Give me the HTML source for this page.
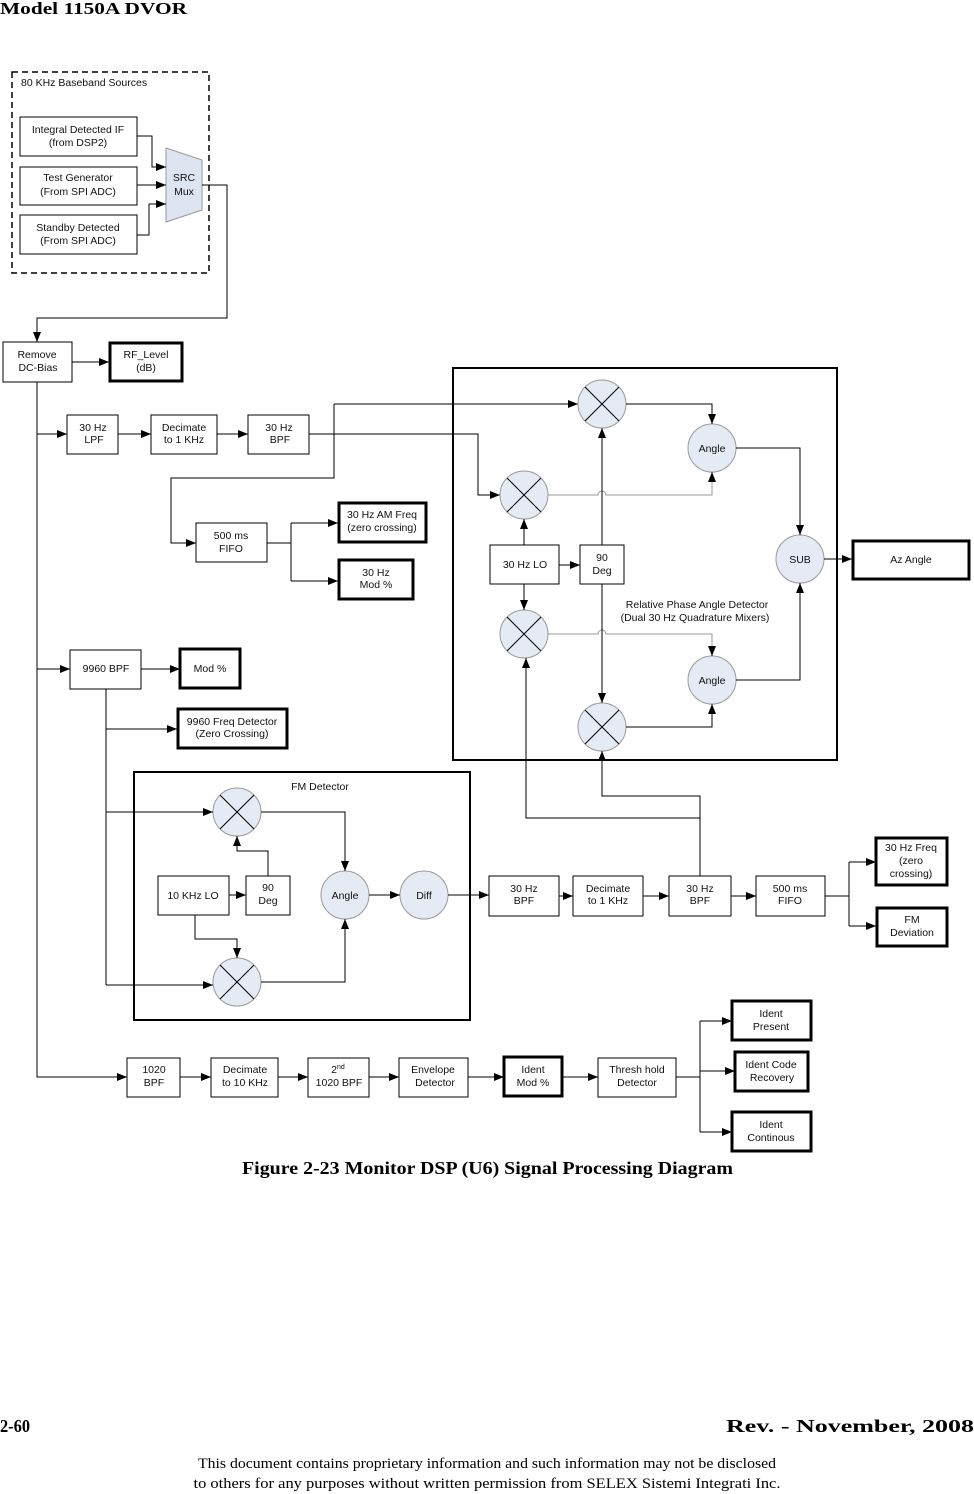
<!DOCTYPE html>
<html><head><meta charset="utf-8"><style>
html,body{margin:0;padding:0;background:#fff}
svg{display:block}
.t{font-family:"Liberation Sans",sans-serif;font-size:10.5px;fill:#111;text-anchor:middle}
.s{font-family:"Liberation Serif",serif;fill:#000}
.b{fill:#fff;stroke:#000;stroke-width:1}
.k{fill:#fff;stroke:#000;stroke-width:3}
.l{fill:none;stroke:#000;stroke-width:1}
.g{fill:none;stroke:#999;stroke-width:1}
.c{fill:#e4ebf5;stroke:#999;stroke-width:1}
</style></head><body>
<svg width="974" height="1494" viewBox="0 0 974 1494" xmlns="http://www.w3.org/2000/svg">
<defs><marker id="a" markerUnits="userSpaceOnUse" markerWidth="10" markerHeight="8" refX="10" refY="4" orient="auto"><path d="M0,0 L10,4 L0,8 z" fill="#000"/></marker></defs>

<text class="s" x="0" y="14" font-size="17" font-weight="bold" textLength="187" lengthAdjust="spacingAndGlyphs">Model 1150A DVOR</text>

<!-- baseband sources -->
<rect x="12" y="72" width="197" height="201" fill="none" stroke="#000" stroke-width="1.5" stroke-dasharray="6,4"/>
<text class="t" x="21" y="86" style="text-anchor:start">80 KHz Baseband Sources</text>
<rect class="b" x="20" y="117" width="117" height="39"/><text class="t" x="78" y="133">Integral Detected IF</text><text class="t" x="78" y="146">(from DSP2)</text>
<rect class="b" x="20" y="167" width="117" height="38"/><text class="t" x="78" y="181">Test Generator</text><text class="t" x="78" y="195">(From SPI ADC)</text>
<rect class="b" x="20" y="215" width="117" height="39"/><text class="t" x="78" y="231">Standby Detected</text><text class="t" x="78" y="244">(From SPI ADC)</text>
<polygon points="166,148 202,160 202,210 166,222" fill="#dde5f1" stroke="#999"/>
<text class="t" x="184" y="181">SRC</text><text class="t" x="184" y="195">Mux</text>
<polyline class="l" points="137,136 152,136 152,167 166,167" marker-end="url(#a)"/>
<polyline class="l" points="137,185 166,185" marker-end="url(#a)"/>
<polyline class="l" points="137,235 149,235 149,204 166,204" marker-end="url(#a)"/>
<polyline class="l" points="202,185 227,185 227,318 37,318 37,342" marker-end="url(#a)"/>

<rect class="b" x="3" y="342" width="69" height="40"/><text class="t" x="37" y="358">Remove</text><text class="t" x="38" y="371">DC-Bias</text>
<rect class="k" x="110" y="343" width="72" height="38"/><text class="t" x="146" y="358">RF_Level</text><text class="t" x="146" y="371">(dB)</text>
<polyline class="l" points="72,362 109,362" marker-end="url(#a)"/>
<polyline class="l" points="37,382 37,1077 127,1077" marker-end="url(#a)"/>

<!-- 30Hz AM chain -->
<rect class="b" x="67" y="415" width="51" height="39"/><text class="t" x="93" y="431">30 Hz</text><text class="t" x="94" y="443">LPF</text>
<rect class="b" x="151" y="415" width="66" height="39"/><text class="t" x="184" y="431">Decimate</text><text class="t" x="184" y="443">to 1 KHz</text>
<rect class="b" x="248" y="415" width="61" height="39"/><text class="t" x="279" y="431">30 Hz</text><text class="t" x="280" y="443">BPF</text>
<polyline class="l" points="37,434 67,434" marker-end="url(#a)"/>
<polyline class="l" points="118,434 151,434" marker-end="url(#a)"/>
<polyline class="l" points="217,434 248,434" marker-end="url(#a)"/>
<polyline class="l" points="309,434 478,434 478,495 500,495" marker-end="url(#a)"/>
<polyline class="l" points="334,404 334,478 171,478 171,543 196,543"  marker-end="url(#a)"/>
<polyline class="l" points="334,404 578,404" marker-end="url(#a)"/>
<rect class="b" x="196" y="523" width="71" height="39"/><text class="t" x="231" y="539">500 ms</text><text class="t" x="231" y="552">FIFO</text>
<polyline class="l" points="267,543 291,543"/>
<polyline class="l" points="291,523 291,581"/>
<polyline class="l" points="291,523 338,523" marker-end="url(#a)"/>
<polyline class="l" points="291,581 338,581" marker-end="url(#a)"/>
<rect class="k" x="339" y="503" width="87" height="39"/><text class="t" x="382" y="518">30 Hz AM Freq</text><text class="t" x="382" y="531">(zero crossing)</text>
<rect class="k" x="339" y="560" width="74" height="39"/><text class="t" x="376" y="576">30 Hz</text><text class="t" x="376" y="588">Mod %</text>

<!-- 9960 -->
<rect class="b" x="70" y="650" width="71" height="39"/><text class="t" x="106" y="672">9960 BPF</text>
<rect class="k" x="180" y="649" width="60" height="39"/><text class="t" x="210" y="672">Mod %</text>
<rect class="k" x="178" y="709" width="109" height="39"/><text class="t" x="232" y="725">9960 Freq Detector</text><text class="t" x="232" y="737">(Zero Crossing)</text>
<polyline class="l" points="37,669 70,669" marker-end="url(#a)"/>
<polyline class="l" points="141,669 180,669" marker-end="url(#a)"/>
<polyline class="l" points="106,689 106,985"/>
<polyline class="l" points="106,729 177,729" marker-end="url(#a)"/>

<!-- relative phase detector -->
<rect x="453" y="368" width="384" height="392" fill="none" stroke="#000" stroke-width="2"/>
<circle class="c" cx="602" cy="404" r="24"/><path class="l" d="M585,387 L619,421 M619,387 L585,421"/>
<circle class="c" cx="524" cy="495" r="24"/><path class="l" d="M507,478 L541,512 M541,478 L507,512"/>
<circle class="c" cx="524" cy="634" r="24"/><path class="l" d="M507,617 L541,651 M541,617 L507,651"/>
<circle class="c" cx="602" cy="727" r="24"/><path class="l" d="M585,710 L619,744 M619,710 L585,744"/>
<circle class="c" cx="712" cy="448" r="24"/><text class="t" x="712" y="452">Angle</text>
<circle class="c" cx="712" cy="680" r="24"/><text class="t" x="712" y="684">Angle</text>
<circle class="c" cx="800" cy="559" r="24"/><text class="t" x="800" y="563">SUB</text>
<rect class="b" x="490" y="545" width="69" height="39"/><text class="t" x="525" y="568">30 Hz LO</text>
<rect class="b" x="580" y="545" width="44" height="39"/><text class="t" x="602" y="561">90</text><text class="t" x="602" y="574">Deg</text>
<rect class="k" x="853" y="541" width="116" height="38"/><text class="t" x="911" y="563">Az Angle</text>
<text class="t" x="697" y="608">Relative Phase Angle Detector</text>
<text class="t" x="695" y="621">(Dual 30 Hz Quadrature Mixers)</text>
<polyline class="l" points="626,404 712,404 712,424" marker-end="url(#a)"/>
<path class="g" d="M548,495 L598,495 A4,4 0 0 1 606,495 L712,495 L712,480"/>
<polyline class="l" points="712,482 712,472" marker-end="url(#a)"/>
<path class="g" stroke="#bbb" d="M548,634 L598,634 A4,4 0 0 1 606,634 L712,634 L712,648"/>
<polyline class="l" points="712,646 712,656" marker-end="url(#a)"/>
<polyline class="l" points="626,727 712,727 712,704" marker-end="url(#a)"/>
<polyline class="l" points="736,448 800,448 800,535" marker-end="url(#a)"/>
<polyline class="l" points="736,680 800,680 800,583" marker-end="url(#a)"/>
<polyline class="l" points="824,559 852,559" marker-end="url(#a)"/>
<polyline class="l" points="524,545 524,519" marker-end="url(#a)"/>
<polyline class="l" points="524,584 524,610" marker-end="url(#a)"/>
<polyline class="l" points="559,565 580,565" marker-end="url(#a)"/>
<polyline class="l" points="602,545 602,428" marker-end="url(#a)"/>
<polyline class="l" points="602,584 602,703" marker-end="url(#a)"/>
<polyline class="l" points="700,876 700,796 602,796 602,751" marker-end="url(#a)"/>
<polyline class="l" points="700,818 526,818 526,658" marker-end="url(#a)"/>

<!-- FM detector -->
<rect x="134" y="772" width="336" height="248" fill="none" stroke="#000" stroke-width="2"/>
<text class="t" x="320" y="790">FM Detector</text>
<circle class="c" cx="237" cy="812" r="24"/><path class="l" d="M220,795 L254,829 M254,795 L220,829"/>
<circle class="c" cx="237" cy="982" r="24"/><path class="l" d="M220,965 L254,999 M254,965 L220,999"/>
<rect class="b" x="158" y="876" width="71" height="39"/><text class="t" x="193" y="899">10 KHz LO</text>
<rect class="b" x="246" y="876" width="44" height="39"/><text class="t" x="268" y="891">90</text><text class="t" x="268" y="904">Deg</text>
<circle class="c" cx="345" cy="895" r="24"/><text class="t" x="345" y="899">Angle</text>
<circle class="c" cx="424" cy="895" r="24"/><text class="t" x="424" y="899">Diff</text>
<polyline class="l" points="106,812 213,812" marker-end="url(#a)"/>
<polyline class="l" points="106,985 213,985" marker-end="url(#a)"/>
<polyline class="l" points="261,812 345,812 345,871" marker-end="url(#a)"/>
<polyline class="l" points="261,982 345,982 345,919" marker-end="url(#a)"/>
<polyline class="l" points="268,876 268,851 237,851 237,836" marker-end="url(#a)"/>
<polyline class="l" points="195,915 195,939 237,939 237,958" marker-end="url(#a)"/>
<polyline class="l" points="229,895 246,895" marker-end="url(#a)"/>
<polyline class="l" points="369,895 400,895" marker-end="url(#a)"/>
<polyline class="l" points="448,895 489,895" marker-end="url(#a)"/>

<!-- FM chain -->
<rect class="b" x="489" y="876" width="70" height="40"/><text class="t" x="524" y="892">30 Hz</text><text class="t" x="524" y="904">BPF</text>
<rect class="b" x="573" y="876" width="70" height="40"/><text class="t" x="608" y="892">Decimate</text><text class="t" x="608" y="904">to 1 KHz</text>
<rect class="b" x="669" y="876" width="62" height="40"/><text class="t" x="700" y="892">30 Hz</text><text class="t" x="700" y="904">BPF</text>
<rect class="b" x="756" y="876" width="69" height="40"/><text class="t" x="790" y="892">500 ms</text><text class="t" x="790" y="904">FIFO</text>
<polyline class="l" points="559,896 573,896" marker-end="url(#a)"/>
<polyline class="l" points="643,896 669,896" marker-end="url(#a)"/>
<polyline class="l" points="731,896 756,896" marker-end="url(#a)"/>
<polyline class="l" points="825,896 849,896"/>
<polyline class="l" points="849,862 849,926"/>
<polyline class="l" points="849,862 876,862" marker-end="url(#a)"/>
<polyline class="l" points="849,926 876,926" marker-end="url(#a)"/>
<rect class="k" x="876" y="838" width="71" height="47"/><text class="t" x="911" y="851">30 Hz Freq</text><text class="t" x="911" y="864">(zero</text><text class="t" x="911" y="877">crossing)</text>
<rect class="k" x="877" y="908" width="70" height="38"/><text class="t" x="912" y="923">FM</text><text class="t" x="912" y="936">Deviation</text>

<!-- Ident chain -->
<rect class="b" x="127" y="1058" width="53" height="39"/><text class="t" x="154" y="1073">1020</text><text class="t" x="154" y="1086">BPF</text>
<rect class="b" x="211" y="1058" width="67" height="39"/><text class="t" x="245" y="1073">Decimate</text><text class="t" x="245" y="1086">to 10 KHz</text>
<rect class="b" x="308" y="1058" width="61" height="39"/><text class="t" x="338" y="1073">2<tspan font-size="7" dy="-4">nd</tspan></text><text class="t" x="339" y="1086">1020 BPF</text>
<rect class="b" x="399" y="1058" width="69" height="39"/><text class="t" x="433" y="1073">Envelope</text><text class="t" x="435" y="1086">Detector</text>
<rect class="k" x="504" y="1057" width="58" height="39"/><text class="t" x="533" y="1073">Ident</text><text class="t" x="533" y="1086">Mod %</text>
<rect class="b" x="598" y="1058" width="78" height="39"/><text class="t" x="637" y="1073">Thresh hold</text><text class="t" x="637" y="1086">Detector</text>
<polyline class="l" points="180,1077 211,1077" marker-end="url(#a)"/>
<polyline class="l" points="278,1077 308,1077" marker-end="url(#a)"/>
<polyline class="l" points="369,1077 399,1077" marker-end="url(#a)"/>
<polyline class="l" points="468,1077 504,1077" marker-end="url(#a)"/>
<polyline class="l" points="562,1077 598,1077" marker-end="url(#a)"/>
<polyline class="l" points="676,1077 700,1077"/>
<polyline class="l" points="700,1021 700,1132"/>
<polyline class="l" points="700,1021 732,1021" marker-end="url(#a)"/>
<polyline class="l" points="700,1071 735,1071" marker-end="url(#a)"/>
<polyline class="l" points="700,1132 732,1132" marker-end="url(#a)"/>
<rect class="k" x="732" y="1001" width="79" height="39"/><text class="t" x="771" y="1017">Ident</text><text class="t" x="771" y="1030">Present</text>
<rect class="k" x="735" y="1052" width="73" height="39"/><text class="t" x="771" y="1068">Ident Code</text><text class="t" x="772" y="1081">Recovery</text>
<rect class="k" x="732" y="1112" width="79" height="39"/><text class="t" x="771" y="1128">Ident</text><text class="t" x="771" y="1141">Continous</text>

<text class="s" x="242" y="1174" font-size="18" font-weight="bold" textLength="491" lengthAdjust="spacingAndGlyphs">Figure 2-23  Monitor DSP (U6) Signal Processing Diagram</text>

<text class="s" x="0" y="1432" font-size="18" font-weight="bold" textLength="30" lengthAdjust="spacingAndGlyphs">2-60</text>
<text class="s" x="974" y="1432" font-size="18" font-weight="bold" text-anchor="end" textLength="248" lengthAdjust="spacingAndGlyphs">Rev. -  November, 2008</text>
<text class="s" x="487" y="1468" font-size="15" text-anchor="middle" textLength="578" lengthAdjust="spacingAndGlyphs">This document contains proprietary information and such information may not be disclosed</text>
<text class="s" x="487" y="1488" font-size="15" text-anchor="middle" textLength="587" lengthAdjust="spacingAndGlyphs">to others for any purposes without written permission from SELEX Sistemi Integrati Inc.</text>
</svg>
</body></html>
